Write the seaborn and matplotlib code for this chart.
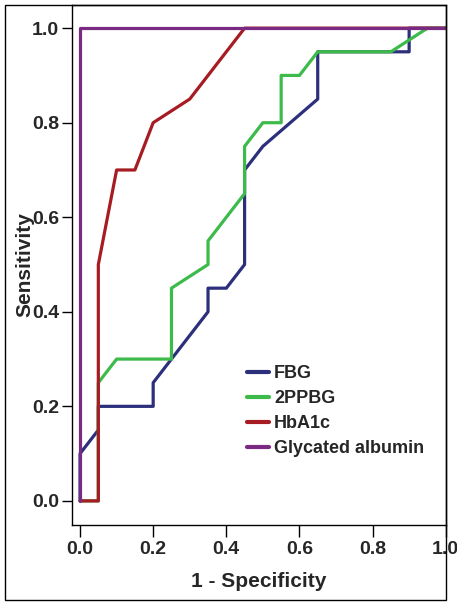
import matplotlib
matplotlib.use("Agg")
import matplotlib.pyplot as plt
import seaborn as sns
from matplotlib.patches import Rectangle

sns.set_theme(style="white")
plt.rcParams['font.family'] = ['Liberation Sans Narrow', 'Liberation Sans', 'DejaVu Sans']
plt.rcParams['font.weight'] = 'bold'

# ROC curve data (1 - specificity, sensitivity)
fbg_x = [0.0, 0.0, 0.05, 0.05, 0.20, 0.20, 0.25, 0.35, 0.35, 0.40, 0.45, 0.45, 0.50, 0.65, 0.65, 0.90, 0.90, 1.0]
fbg_y = [0.0, 0.10, 0.15, 0.20, 0.20, 0.25, 0.30, 0.40, 0.45, 0.45, 0.50, 0.70, 0.75, 0.85, 0.95, 0.95, 1.0, 1.0]

ppbg_x = [0.0, 0.05, 0.05, 0.10, 0.25, 0.25, 0.35, 0.35, 0.45, 0.45, 0.50, 0.55, 0.55, 0.60, 0.65, 0.85, 0.95, 1.0]
ppbg_y = [0.0, 0.0, 0.25, 0.30, 0.30, 0.45, 0.50, 0.55, 0.65, 0.75, 0.80, 0.80, 0.90, 0.90, 0.95, 0.95, 1.0, 1.0]

hba1c_x = [0.0, 0.05, 0.05, 0.10, 0.15, 0.20, 0.30, 0.45, 1.0]
hba1c_y = [0.0, 0.0, 0.50, 0.70, 0.70, 0.80, 0.85, 1.0, 1.0]

ga_x = [0.0, 0.0, 1.0]
ga_y = [0.0, 1.0, 1.0]

series_names = ["FBG", "2PPBG", "HbA1c", "Glycated albumin"]
series_x = [fbg_x, ppbg_x, hba1c_x, ga_x]
series_y = [fbg_y, ppbg_y, hba1c_y, ga_y]
colors = ["#2c2f7c", "#3cba4a", "#a61c22", "#7b2a84"]

x_ticks = [0.0, 0.2, 0.4, 0.6, 0.8, 1.0]
y_ticks = [0.0, 0.2, 0.4, 0.6, 0.8, 1.0]

fig = plt.figure(figsize=(4.57, 6.04), dpi=100)
ax = fig.add_axes([72/457, 1 - 525/604, (445.7 - 72)/457, (525 - 5)/604])

for name, xs, ys, c in zip(series_names, series_x, series_y, colors):
    sns.lineplot(x=xs, y=ys, sort=False, estimator=None, color=c, lw=2.3,
                 label=name, ax=ax)

ax.set_xlim(-0.022, 1.0)
ax.set_ylim(-0.051, 1.049)
ax.set_xticks(x_ticks)
ax.set_yticks(y_ticks)
ax.set_xticklabels([f"{v:.1f}" for v in x_ticks], fontsize=14, fontweight='bold')
ax.set_yticklabels([f"{v:.1f}" for v in y_ticks], fontsize=14, fontweight='bold')
ax.tick_params(axis='x', direction='out', length=8.5, width=1, color='black', pad=3, bottom=True)
ax.tick_params(axis='y', direction='out', length=7.2, width=1, color='black', pad=2, left=True)
for s in ax.spines.values():
    s.set_color('black')
    s.set_linewidth(1.0)

ax.set_xlabel("1 - Specificity", fontsize=15, fontweight='bold')
ax.set_ylabel("Sensitivity", fontsize=15, fontweight='bold')
ax.yaxis.set_label_coords((34 - 72) / 373.7, 0.5)
ax.xaxis.set_label_coords(0.5, (525 - 572) / 520)

leg = ax.legend(loc='upper left', bbox_to_anchor=(247/457, 1 - 365/604),
                bbox_transform=fig.transFigure, frameon=False,
                fontsize=13, handlelength=1.2, handletextpad=0.3,
                labelspacing=0.45, borderpad=0, borderaxespad=0)
for line in leg.get_lines():
    line.set_linewidth(3)
for t in leg.get_texts():
    t.set_fontweight('bold')

# outer frame
fig.patches.append(Rectangle((5/457, 1 - 600/604), (446 - 5)/457, (600 - 5)/604,
                             transform=fig.transFigure, fill=False,
                             edgecolor='black', linewidth=1.0))

fig.savefig("out.png", dpi=100)
